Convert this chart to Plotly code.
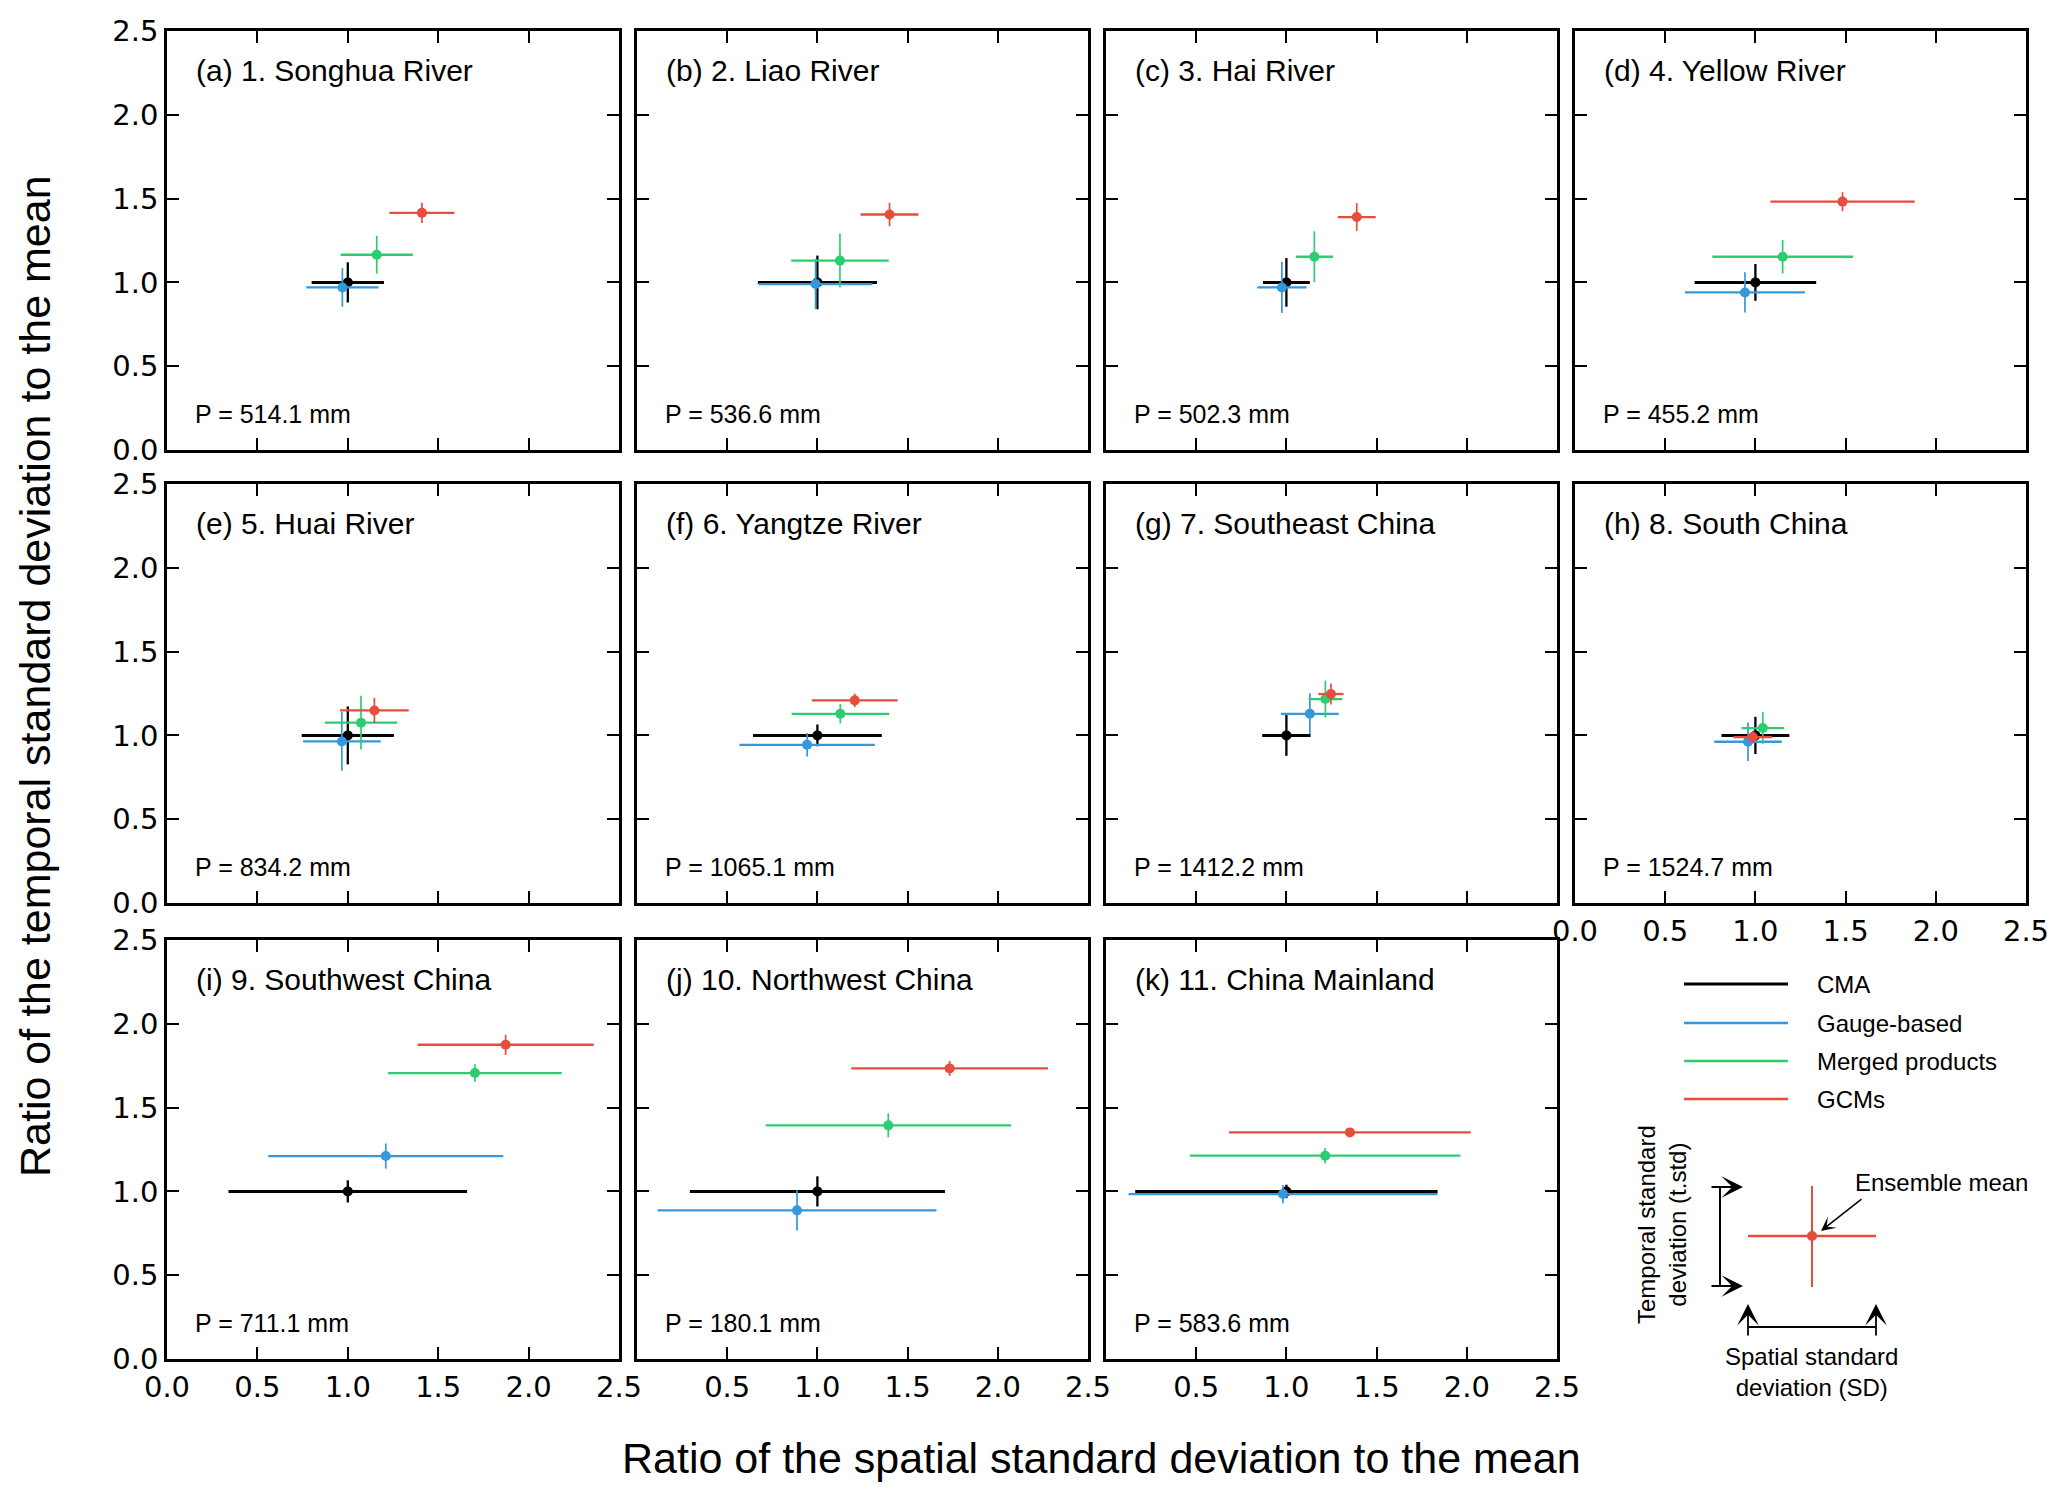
import plotly.graph_objects as go

# page is 2067x1494, body margin 8px -> figure 2051x1478 placed at (8, 8)
FW, FH = 2051, 1478
OFF = 8

regions = ["(a) 1. Songhua River", "(b) 2. Liao River", "(c) 3. Hai River", "(d) 4. Yellow River",
           "(e) 5. Huai River", "(f) 6. Yangtze River", "(g) 7. Southeast China", "(h) 8. South China",
           "(i) 9. Southwest China", "(j) 10. Northwest China", "(k) 11. China Mainland"]
precip = [514.1, 536.6, 502.3, 455.2, 834.2, 1065.1, 1412.2, 1524.7, 711.1, 180.1, 583.6]

# ratio of spatial SD to mean (x), ratio of temporal SD to mean (y), and spreads
cma_x = [1.0, 1.0, 1.0, 1.0, 1.0, 1.0, 1.0, 1.0, 1.0, 1.0, 1.0]
cma_y = [1.0, 1.0, 1.0, 1.0, 1.0, 1.0, 1.0, 1.0, 1.0, 1.0, 1.0]
cma_sx = [0.20, 0.33, 0.13, 0.337, 0.255, 0.357, 0.134, 0.188, 0.66, 0.707, 0.838]
cma_sy = [0.12, 0.16, 0.145, 0.11, 0.173, 0.065, 0.122, 0.111, 0.066, 0.09, 0.04]

gauge_x = [0.97, 0.99, 0.975, 0.942, 0.967, 0.943, 1.13, 0.959, 1.21, 0.887, 0.981]
gauge_y = [0.97, 0.99, 0.97, 0.94, 0.964, 0.944, 1.129, 0.962, 1.211, 0.887, 0.984]
gauge_sx = [0.20, 0.315, 0.137, 0.332, 0.215, 0.375, 0.16, 0.187, 0.65, 0.773, 0.856]
gauge_sy = [0.115, 0.15, 0.153, 0.12, 0.175, 0.07, 0.122, 0.115, 0.075, 0.12, 0.054]

merged_x = [1.16, 1.125, 1.155, 1.151, 1.073, 1.127, 1.216, 1.041, 1.703, 1.393, 1.215]
merged_y = [1.165, 1.13, 1.153, 1.153, 1.076, 1.129, 1.217, 1.044, 1.706, 1.394, 1.213]
merged_sx = [0.20, 0.27, 0.103, 0.39, 0.20, 0.27, 0.093, 0.118, 0.48, 0.68, 0.75]
merged_sy = [0.113, 0.16, 0.152, 0.10, 0.16, 0.058, 0.11, 0.095, 0.052, 0.072, 0.046]

gcm_x = [1.41, 1.40, 1.39, 1.483, 1.147, 1.207, 1.247, 0.986, 1.873, 1.733, 1.352]
gcm_y = [1.415, 1.405, 1.39, 1.482, 1.149, 1.209, 1.247, 0.99, 1.875, 1.734, 1.352]
gcm_sx = [0.18, 0.16, 0.105, 0.40, 0.19, 0.238, 0.07, 0.108, 0.487, 0.545, 0.67]
gcm_sy = [0.06, 0.07, 0.083, 0.057, 0.075, 0.04, 0.062, 0.037, 0.06, 0.044, 0.01]

groups = [
    ("CMA", "#000000", cma_x, cma_y, cma_sx, cma_sy),
    ("Gauge-based", "#3498db", gauge_x, gauge_y, gauge_sx, gauge_sy),
    ("Merged products", "#2ecc71", merged_x, merged_y, merged_sx, merged_sy),
    ("GCMs", "#e74c3c", gcm_x, gcm_y, gcm_sx, gcm_sy),
]

ticks = [0, 0.5, 1.0, 1.5, 2.0, 2.5]
tick_labels = ["0.0", "0.5", "1.0", "1.5", "2.0", "2.5"]

# panel edges in page pixels
col_px = [(167, 619), (637, 1088), (1106, 1557), (1575, 2026)]
row_px = [(31, 450), (484, 903), (940, 1359)]

TICK_FONT = dict(family="DejaVu Sans", size=29, color="black")
TEXT = "Liberation Sans, Arial"


def px(x):
    return (x - OFF) / FW


def py(y):
    return 1 - (y - OFF) / FH


fig = go.Figure()
layout = {}
annotations = []

for i, name in enumerate(regions):
    r, c = divmod(i, 4)
    n = i + 1
    xa = "x" if n == 1 else f"x{n}"
    ya = "y" if n == 1 else f"y{n}"

    for label, color, xs, ys, sxs, sys_ in groups:
        black = color == "#000000"
        fig.add_trace(go.Scatter(
            x=[xs[i]], y=[ys[i]], mode="markers", name=label, showlegend=False,
            marker=dict(color=color, size=10),
            error_x=dict(type="data", array=[sxs[i]], width=0, thickness=3 if black else 2.3, color=color),
            error_y=dict(type="data", array=[sys_[i]], width=0, thickness=2.3 if black else 1.7, color=color),
            xaxis=xa, yaxis=ya,
        ))

    show_x = (r == 2) or (n == 8)
    xt = list(tick_labels) if show_x else [""] * 6
    if n in (10, 11):
        xt[0] = ""
    yt = list(tick_labels) if c == 0 else [""] * 6

    common = dict(range=[0, 2.5], tickvals=ticks, ticks="inside", ticklen=12, tickwidth=1.6,
                  tickcolor="black", showline=True, linecolor="black", linewidth=2.6,
                  mirror="ticks", showgrid=False, zeroline=False, tickfont=TICK_FONT,
                  fixedrange=True, automargin=False)
    x0, x1 = col_px[c]
    y0, y1 = row_px[r]
    layout["xaxis" if n == 1 else f"xaxis{n}"] = dict(
        common, domain=[px(x0), px(x1)], anchor=ya, ticktext=xt)
    layout["yaxis" if n == 1 else f"yaxis{n}"] = dict(
        common, domain=[py(y1), py(y0)], anchor=xa, ticktext=yt)

    annotations.append(dict(text=name, x=0.15, y=2.265, xref=xa, yref=ya, showarrow=False,
                            xanchor="left", yanchor="middle",
                            font=dict(family=TEXT, size=30, color="black")))
    annotations.append(dict(text=f"P = {precip[i]} mm", x=0.145, y=0.215, xref=xa, yref=ya,
                            showarrow=False, xanchor="left", yanchor="middle",
                            font=dict(family=TEXT, size=25, color="black")))

# axis titles
annotations.append(dict(text="Ratio of the spatial standard deviation to the mean",
                        x=px(1101), y=py(1458), xref="paper", yref="paper", showarrow=False,
                        xanchor="center", yanchor="middle",
                        font=dict(family=TEXT, size=43, color="black")))
annotations.append(dict(text="Ratio of the temporal standard deviation to the mean",
                        x=px(35), y=py(676), xref="paper", yref="paper", showarrow=False,
                        xanchor="center", yanchor="middle",
                        textangle=-90, font=dict(family=TEXT, size=43, color="black")))

# legend
shapes = []
leg_y = [984, 1023, 1061, 1099]
for (label, color, *_), yy in zip(groups, leg_y):
    shapes.append(dict(type="line", xref="paper", yref="paper", x0=px(1684), x1=px(1788),
                       y0=py(yy), y1=py(yy), line=dict(color=color, width=3 if color == "#000000" else 2.5)))
    annotations.append(dict(text=label, x=px(1815), y=py(yy), xref="paper", yref="paper",
                            showarrow=False, xanchor="left", yanchor="middle",
                            font=dict(family=TEXT, size=24, color="black")))

# schematic key
red = "#e74c3c"
shapes.append(dict(type="line", xref="paper", yref="paper", x0=px(1748), x1=px(1876),
                   y0=py(1236), y1=py(1236), line=dict(color=red, width=2.5)))
shapes.append(dict(type="line", xref="paper", yref="paper", x0=px(1812), x1=px(1812),
                   y0=py(1186), y1=py(1287), line=dict(color=red, width=2)))
shapes.append(dict(type="circle", xref="paper", yref="paper", x0=px(1807), x1=px(1817),
                   y0=py(1241), y1=py(1231), fillcolor=red, line=dict(color=red, width=0)))
shapes.append(dict(type="line", xref="paper", yref="paper", x0=px(1720), x1=px(1720),
                   y0=py(1187), y1=py(1286), line=dict(color="black", width=2)))
shapes.append(dict(type="line", xref="paper", yref="paper", x0=px(1748), x1=px(1876),
                   y0=py(1327), y1=py(1327), line=dict(color="black", width=2)))

arrow = dict(xref="paper", yref="paper", text="", showarrow=True, arrowhead=3, arrowsize=2,
             arrowwidth=1.8, arrowcolor="black")
for yy in (1187, 1286):
    annotations.append(dict(arrow, x=px(1743), y=py(yy), ax=-33, ay=0))
for xx in (1748, 1876):
    annotations.append(dict(arrow, x=px(xx), y=py(1304), ax=0, ay=33))
annotations.append(dict(arrow, x=px(1821), y=py(1231), ax=42, ay=-33, arrowwidth=1.5, arrowsize=1.6))

annotations.append(dict(text="Ensemble mean", x=px(1853), y=py(1182), xref="paper", yref="paper",
                        showarrow=False, xanchor="left", yanchor="middle",
                        font=dict(family=TEXT, size=24, color="black")))
annotations.append(dict(text="Temporal standard<br>deviation (t.std)", x=px(1662), y=py(1225),
                        xref="paper", yref="paper", showarrow=False, textangle=-90,
                        xanchor="center", yanchor="middle",
                        font=dict(family=TEXT, size=24, color="black")))
annotations.append(dict(text="Spatial standard<br>deviation (SD)", x=px(1811), y=py(1372),
                        xref="paper", yref="paper", showarrow=False,
                        xanchor="center", yanchor="middle",
                        font=dict(family=TEXT, size=24, color="black")))

fig.update_layout(**layout)
fig.update_layout(
    width=FW, height=FH,
    margin=dict(l=0, r=0, t=0, b=0, pad=0, autoexpand=False),
    plot_bgcolor="white", paper_bgcolor="white",
    showlegend=False,
    annotations=annotations,
    shapes=shapes,
)

fig.write_html("out.html")
